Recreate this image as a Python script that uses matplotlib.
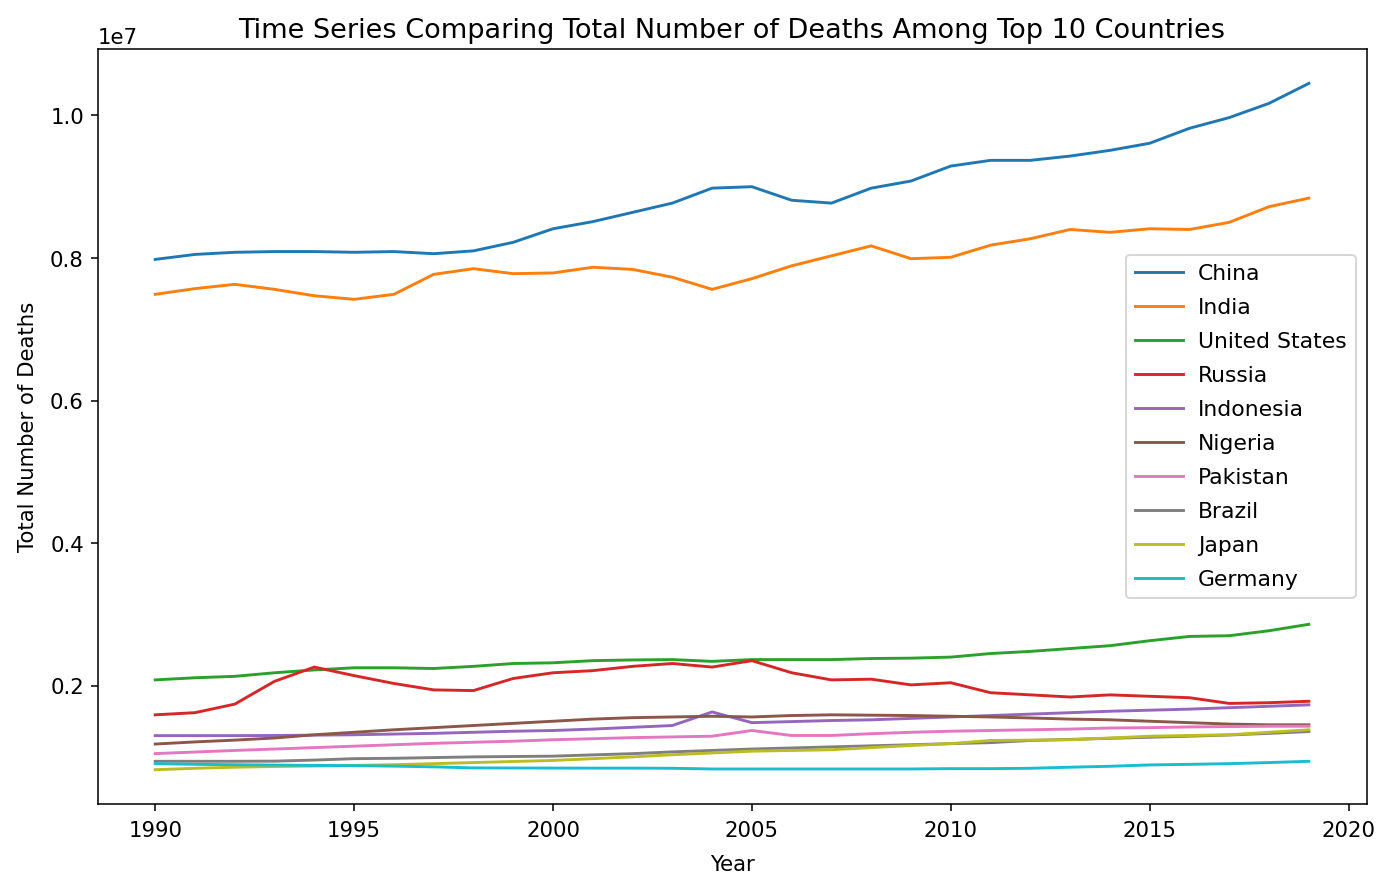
import matplotlib.pyplot as plt
import numpy as np

years = list(range(1990, 2020))

# deaths per year, in units of 1e7
china = [0.798, 0.805, 0.808, 0.809, 0.809, 0.808, 0.809, 0.806, 0.810, 0.822,
         0.841, 0.851, 0.864, 0.877, 0.898, 0.900, 0.881, 0.877, 0.898, 0.908,
         0.929, 0.937, 0.937, 0.943, 0.951, 0.961, 0.982, 0.997, 1.017, 1.045]
india = [0.749, 0.757, 0.763, 0.756, 0.747, 0.742, 0.749, 0.777, 0.785, 0.778,
         0.779, 0.787, 0.784, 0.773, 0.756, 0.771, 0.789, 0.803, 0.817, 0.799,
         0.801, 0.818, 0.827, 0.840, 0.836, 0.841, 0.840, 0.850, 0.872, 0.884]
united_states = [0.208, 0.211, 0.213, 0.218, 0.222, 0.225, 0.225, 0.224, 0.227, 0.231,
                 0.232, 0.235, 0.236, 0.2365, 0.234, 0.2365, 0.2365, 0.2365, 0.238, 0.2385,
                 0.240, 0.245, 0.248, 0.252, 0.256, 0.263, 0.269, 0.270, 0.277, 0.286]
russia = [0.159, 0.162, 0.174, 0.206, 0.226, 0.214, 0.203, 0.194, 0.193, 0.210,
          0.218, 0.221, 0.227, 0.231, 0.226, 0.235, 0.218, 0.208, 0.209, 0.201,
          0.204, 0.190, 0.187, 0.184, 0.187, 0.185, 0.183, 0.175, 0.176, 0.178]
indonesia = [0.1298, 0.1298, 0.1298, 0.130, 0.1305, 0.131, 0.132, 0.133, 0.1345, 0.136,
             0.137, 0.139, 0.1415, 0.144, 0.163, 0.148, 0.1495, 0.151, 0.152, 0.154,
             0.156, 0.158, 0.160, 0.162, 0.164, 0.1655, 0.167, 0.169, 0.171, 0.173]
nigeria = [0.118, 0.121, 0.1235, 0.1265, 0.131, 0.1345, 0.138, 0.141, 0.144, 0.147,
           0.150, 0.153, 0.155, 0.156, 0.157, 0.156, 0.158, 0.159, 0.1585, 0.158,
           0.157, 0.156, 0.1546, 0.153, 0.152, 0.150, 0.148, 0.146, 0.145, 0.145]
pakistan = [0.1046, 0.1068, 0.109, 0.111, 0.113, 0.115, 0.117, 0.119, 0.1205, 0.122,
            0.124, 0.1255, 0.127, 0.128, 0.129, 0.137, 0.130, 0.130, 0.1325, 0.1345,
            0.136, 0.137, 0.138, 0.139, 0.1405, 0.141, 0.142, 0.1425, 0.143, 0.143]
brazil = [0.0938, 0.0938, 0.0938, 0.094, 0.0955, 0.0975, 0.098, 0.099, 0.100, 0.1005,
          0.101, 0.1028, 0.1045, 0.107, 0.109, 0.111, 0.1125, 0.114, 0.1155, 0.117,
          0.1186, 0.120, 0.123, 0.1245, 0.126, 0.1275, 0.129, 0.1307, 0.133, 0.1355]
japan = [0.082, 0.084, 0.0855, 0.0865, 0.0872, 0.088, 0.089, 0.0905, 0.092, 0.0935,
         0.095, 0.0975, 0.100, 0.103, 0.1055, 0.108, 0.109, 0.110, 0.113, 0.116,
         0.1186, 0.123, 0.1235, 0.124, 0.1265, 0.129, 0.130, 0.131, 0.1345, 0.138]
germany = [0.0905, 0.0895, 0.089, 0.0885, 0.088, 0.0877, 0.087, 0.086, 0.0845, 0.0844,
           0.0843, 0.0842, 0.0842, 0.084, 0.083, 0.083, 0.083, 0.083, 0.083, 0.083,
           0.0835, 0.0835, 0.084, 0.0855, 0.0868, 0.0887, 0.0895, 0.0905, 0.092, 0.0938]

countries = ["China", "India", "United States", "Russia", "Indonesia",
             "Nigeria", "Pakistan", "Brazil", "Japan", "Germany"]
series = [china, india, united_states, russia, indonesia,
          nigeria, pakistan, brazil, japan, germany]

plt.rcParams["font.size"] = 11

fig, ax = plt.subplots(figsize=(10, 6.28), dpi=139.3)
fig.subplots_adjust(left=0.070, right=0.981, top=0.943, bottom=0.080)

for name, values in zip(countries, series):
    ax.plot(years, np.array(values) * 1e7, label=name)

ax.set_title("Time Series Comparing Total Number of Deaths Among Top 10 Countries", fontsize=14)
ax.set_xlabel("Year", labelpad=7)
ax.set_ylabel("Total Number of Deaths", labelpad=6.5)
ax.tick_params(axis="x", pad=5)
ax.legend(loc="center right", fontsize=11.3, labelspacing=0.64, handlelength=2.2,
          handletextpad=0.7)

fig.savefig("out.png", dpi=139.3)
